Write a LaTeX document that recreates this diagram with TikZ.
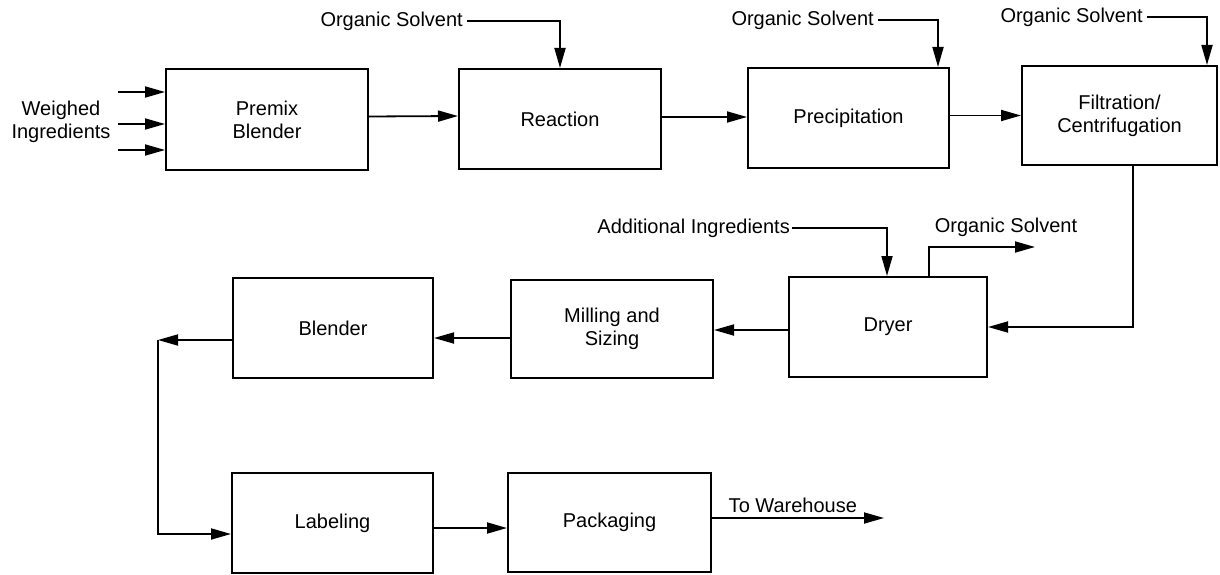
\documentclass[tikz,border=0pt]{standalone}
\usepackage{fontspec}
\setmainfont{Liberation Sans}
\usetikzlibrary{arrows.meta}
\tikzset{
  box/.style={draw, line width=2pt, rectangle, align=center, inner sep=0pt,
    font=\fontsize{20}{23}\selectfont},
  lbl/.style={inner sep=0pt, align=center, font=\fontsize{20}{23}\selectfont},
  arr/.style={line width=1.8pt, -{Triangle[length=20pt,width=11pt]}},
  ln/.style={line width=1.8pt}
}
\begin{document}
\begin{tikzpicture}[x=1pt,y=-1pt]
\useasboundingbox (0,0) rectangle (1220,575);
% boxes
\node[box, minimum width=202pt, minimum height=101pt] (premix) at (267,119.5) {Premix\\Blender};
\node[box, minimum width=202pt, minimum height=100pt] (reaction) at (560,119) {Reaction};
\node[box, minimum width=201pt, minimum height=100pt] (precip) at (848.5,118) {Precipitation};
\node[box, minimum width=195pt, minimum height=99pt] (filt) at (1119.5,115.5) {Filtration/\\Centrifugation};
\node[box, minimum width=198pt, minimum height=100pt] (dryer) at (888,327) {Dryer};
\node[box, minimum width=202pt, minimum height=98pt] (milling) at (612,329) {Milling and\\Sizing};
\node[box, minimum width=200pt, minimum height=100pt] (blender) at (333,328) {Blender};
\node[box, minimum width=201pt, minimum height=100pt] (labeling) at (332.5,523) {Labeling};
\node[box, minimum width=203pt, minimum height=99pt] (packaging) at (609.5,522.5) {Packaging};
% labels
\node[lbl] (weighed) at (61,121.5) {Weighed\\Ingredients};
\node[lbl, anchor=east] (os1) at (463,21) {Organic Solvent};
\node[lbl, anchor=east] (os2) at (874,20) {Organic Solvent};
\node[lbl, anchor=east] (os3) at (1143,17) {Organic Solvent};
\node[lbl, anchor=east] (addi) at (790,228) {Additional Ingredients};
\node[lbl] (osout) at (1006,227) {Organic Solvent};
% free ends
\coordinate (in1) at (118,92);
\coordinate (in2) at (118,124);
\coordinate (in3) at (118,150);
\coordinate (osend) at (1035,247);
\coordinate (corner) at (158,340);
\coordinate (whend) at (884,518);
% inputs
\draw[arr] (in1) -- (in1 -| premix.west);
\draw[arr] (in2) -- (in2 -| premix.west);
\draw[arr] (in3) -- (in3 -| premix.west);
% main line
\draw[arr] ([yshift=3pt]premix.east) -- ([yshift=3pt]reaction.west);
\draw[arr] ([yshift=2pt]reaction.east) -- ([yshift=2pt]reaction.east -| precip.west);
\draw[arr] (precip.east |- filt.west) -- (filt.west);
% solvents
\draw[arr] ([xshift=4pt]os1.east) -| (reaction.north);
\draw[arr] ([xshift=4pt]os2.east) -| ([xshift=89.5pt]precip.north);
\draw[arr] ([xshift=4pt]os3.east) -| ([xshift=87.5pt]filt.south |- filt.north);
% filtration to dryer
\draw[arr] ([xshift=13.5pt]filt.south) |- (dryer.east);
% dryer in/out
\draw[arr] ([xshift=2pt]addi.east) -| ([xshift=-1pt]dryer.north);
\draw[arr] ([xshift=41pt]dryer.north) |- (osend);
% bottom flow
\draw[arr] ([yshift=-3pt]dryer.west) -- ([yshift=-3pt]dryer.west -| milling.east);
\draw[arr] ([yshift=-9pt]milling.west) -- ([yshift=-9pt]milling.west -| blender.east);
\draw[arr] ([yshift=-12pt]blender.west) -- (corner);
\draw[arr] (corner) |- ([yshift=-11pt]labeling.west);
\draw[arr] ([yshift=-5pt]labeling.east) -- ([yshift=-5pt]labeling.east -| packaging.west);
\draw[arr] ([yshift=4.5pt]packaging.east) -- node[lbl, above=4pt, pos=0.47] (wh) {To Warehouse} (whend);
\end{tikzpicture}
\end{document}
